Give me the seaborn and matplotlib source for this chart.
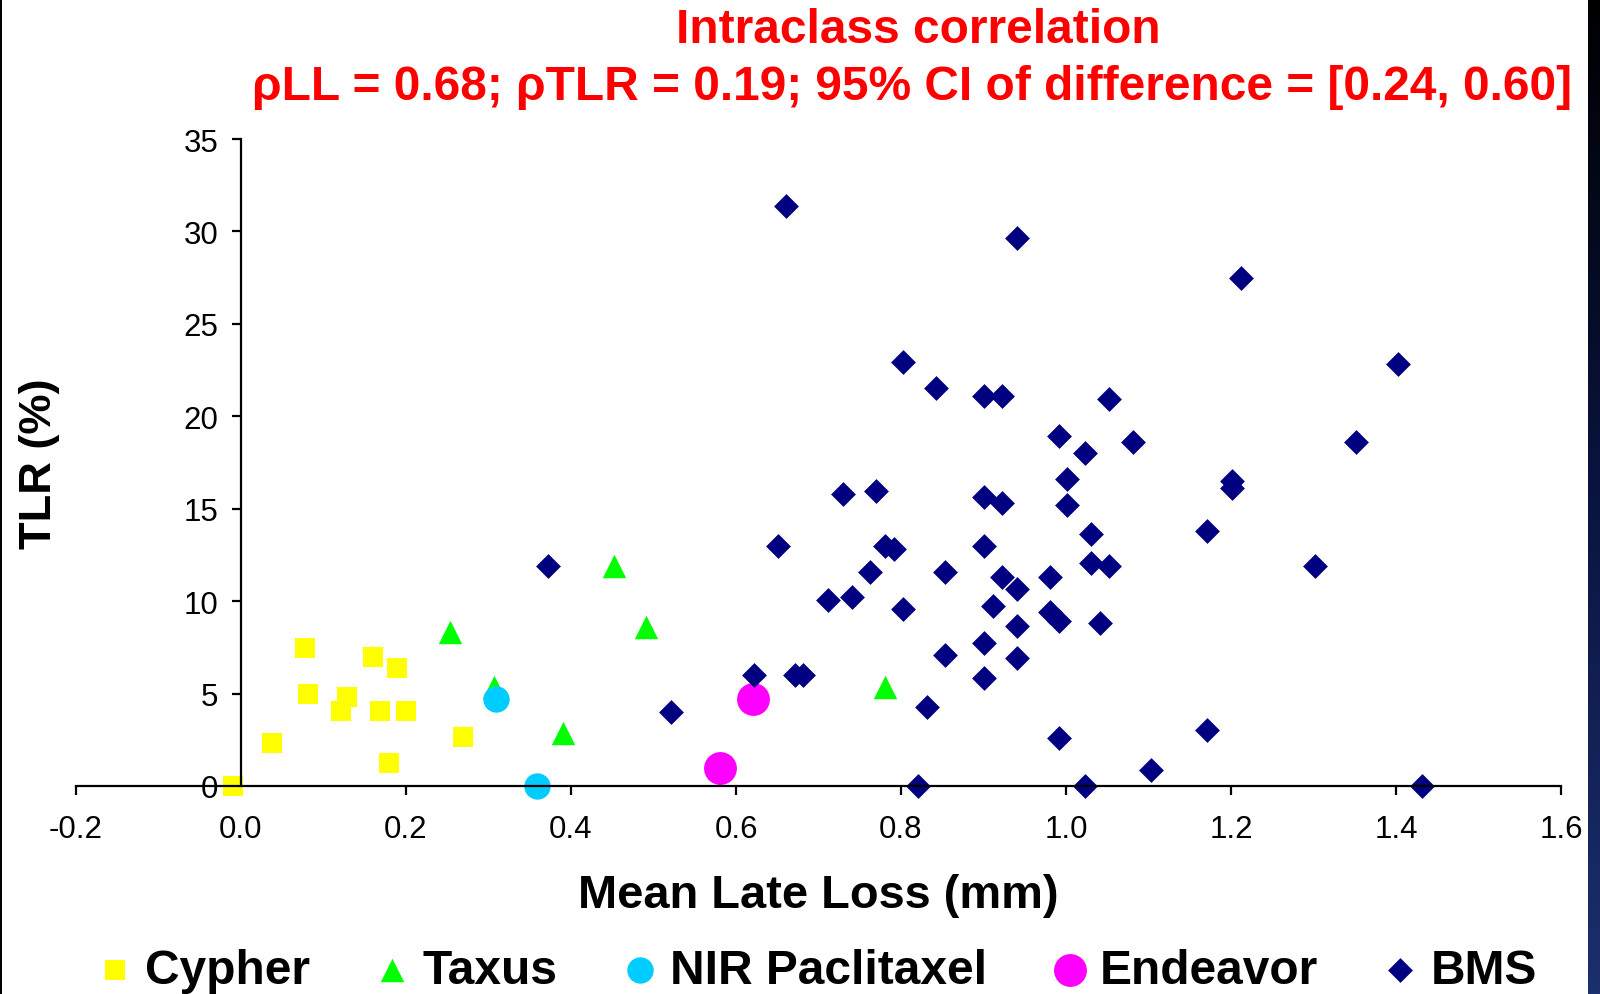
import numpy as np
import pandas as pd
import matplotlib
matplotlib.use("Agg")
import matplotlib.pyplot as plt
import seaborn as sns
from matplotlib.patches import Rectangle
from matplotlib.colors import LinearSegmentedColormap

# ---------------- data ----------------
cypher_x = [-0.010, 0.037, 0.077, 0.081, 0.128, 0.121, 0.160, 0.189, 0.168, 0.200, 0.179, 0.269]
cypher_y = [0.0, 2.35, 7.47, 4.97, 4.83, 4.05, 7.00, 6.38, 4.05, 4.05, 1.25, 2.66]

taxus_x = [0.253, 0.307, 0.452, 0.491, 0.390, 0.781]
taxus_y = [8.34, 5.35, 11.90, 8.60, 2.88, 5.35]

nir_x = [0.309, 0.359]
nir_y = [4.70, 0.0]

endeavor_x = [0.580, 0.621]
endeavor_y = [0.96, 4.70]

bms_x = [0.372, 0.521, 0.622, 0.651, 0.661, 0.672, 0.681, 0.712, 0.730, 0.741,
         0.763, 0.770, 0.780, 0.792, 0.803, 0.803, 0.820, 0.831, 0.842, 0.853,
         0.853, 0.900, 0.900, 0.900, 0.900, 0.900, 0.911, 0.922, 0.922, 0.923,
         0.940, 0.940, 0.940, 0.940, 0.980, 0.980, 0.991, 0.991, 0.991, 1.001,
         1.001, 1.023, 1.023, 1.030, 1.030, 1.041, 1.052, 1.052, 1.081, 1.103,
         1.171, 1.171, 1.201, 1.201, 1.212, 1.302, 1.352, 1.403, 1.432]
bms_y = [11.90, 3.98, 6.00, 13.00, 31.37, 6.00, 6.00, 10.05, 15.82, 10.20,
         11.60, 15.95, 13.00, 12.84, 9.58, 22.96, 0.0, 4.28, 21.55, 11.60,
         7.09, 15.66, 13.00, 21.10, 7.72, 5.84, 9.75, 15.33, 11.30, 21.10,
         29.65, 10.67, 8.64, 6.93, 11.30, 9.40, 8.95, 2.57, 18.93, 16.60,
         15.18, 17.99, 0.0, 13.63, 12.06, 8.81, 11.90, 20.93, 18.60, 0.87,
         13.77, 3.04, 16.50, 16.10, 27.48, 11.90, 18.60, 22.81, 0.0]

series_names = ["Cypher", "Taxus", "NIR Paclitaxel", "Endeavor", "BMS"]
x_ticks = [-0.2, 0.0, 0.2, 0.4, 0.6, 0.8, 1.0, 1.2, 1.4, 1.6]
x_tick_labels = ["-0.2", "0.0", "0.2", "0.4", "0.6", "0.8", "1.0", "1.2", "1.4", "1.6"]
y_ticks = [0, 5, 10, 15, 20, 25, 30, 35]
title_line1 = "Intraclass correlation"
title_line2 = "\u03c1LL = 0.68; \u03c1TLR = 0.19; 95% CI of difference = [0.24, 0.60]"
x_label = "Mean Late Loss (mm)"
y_label = "TLR (%)"

# ---------------- style ----------------
sns.set_style("ticks")
plt.rcParams["font.family"] = ["Liberation Sans", "DejaVu Sans"]
plt.rcParams["text.color"] = "black"
plt.rcParams["axes.labelcolor"] = "black"
plt.rcParams["xtick.color"] = "black"
plt.rcParams["ytick.color"] = "black"

fig = plt.figure(figsize=(16, 9.95), dpi=100)
fig.patch.set_facecolor("white")
ax = fig.add_axes([76 / 1600, 1 - 787 / 995, 1485 / 1600, 647 / 995])

groups = [
    (cypher_x, cypher_y, "s", "#FFFF00", 225),
    (taxus_x, taxus_y, "^", "#00FF00", 285),
    (nir_x, nir_y, "o", "#00CCFF", 360),
    (endeavor_x, endeavor_y, "o", "#FF00FF", 560),
    (bms_x, bms_y, "D", "#000080", 160),
]
for (xs, ys, mk, col, sz), name in zip(groups, series_names):
    df = pd.DataFrame({"x": xs, "y": ys})
    sns.scatterplot(data=df, x="x", y="y", marker=mk, color=col, s=sz,
                    linewidth=0, label=name, ax=ax, legend=False)
for coll in ax.collections:
    coll.set_clip_on(False)

ax.set_xlim(-0.2, 1.6)
ax.set_ylim(0, 35)
ax.set_xticks(x_ticks)
ax.set_xticklabels(x_tick_labels)
ax.set_yticks(y_ticks)
ax.spines["top"].set_visible(False)
ax.spines["right"].set_visible(False)
ax.spines["left"].set_position(("data", 0))
for sp in ("left", "bottom"):
    ax.spines[sp].set_linewidth(1.6)
    ax.spines[sp].set_color("black")
ax.tick_params(axis="both", direction="out", length=6.5, width=1.6, color="black",
               labelsize=22.5, labelcolor="black")
ax.tick_params(axis="x", pad=14)
ax.tick_params(axis="y", pad=10)
ax.set_facecolor("white")

ax.set_xlabel(x_label, fontsize=33.8, fontweight="bold", va="center", color="black")
ax.xaxis.set_label_coords(0.5, (787 - 896) / 647)
ax.set_ylabel(y_label, fontsize=32.5, fontweight="bold", va="center", color="black")
ax.yaxis.set_label_coords((39 - 76) / 1485, 0.5)

fig.text(918 / 1600, 1 - 43 / 995, title_line1, color="#FF0000", fontsize=34.5,
         fontweight="bold", ha="center", va="baseline")
fig.text(912 / 1600, 1 - 100 / 995, title_line2, color="#FF0000", fontsize=34.5,
         fontweight="bold", ha="center", va="baseline")

handles = ax.collections[:5]
leg = fig.legend(handles, series_names, loc="center", bbox_to_anchor=(0.512, 0.024),
                 ncol=5, frameon=False,
                 prop={"family": "Liberation Sans", "weight": "bold", "size": 34.5},
                 handlelength=0.55, handletextpad=0.35, columnspacing=1.45, borderpad=0)
for t in leg.get_texts():
    t.set_color("black")

# frame decorations (left thin black line, right dark gradient strip)
fig.add_artist(Rectangle((0, 0), 2 / 1600, 1, transform=fig.transFigure,
                         facecolor="black", edgecolor="none"))
sax = fig.add_axes([1588 / 1600, 0, 12 / 1600, 1])
grad = np.linspace(0, 1, 256).reshape(-1, 1)
cm = LinearSegmentedColormap.from_list("strip", ["#000000", "#0a1440", "#1c2f6e"])
sax.imshow(grad, aspect="auto", cmap=cm, extent=[0, 1, 0, 1], origin="upper")
sax.set_axis_off()

fig.savefig("out.png", dpi=100, facecolor="white")
